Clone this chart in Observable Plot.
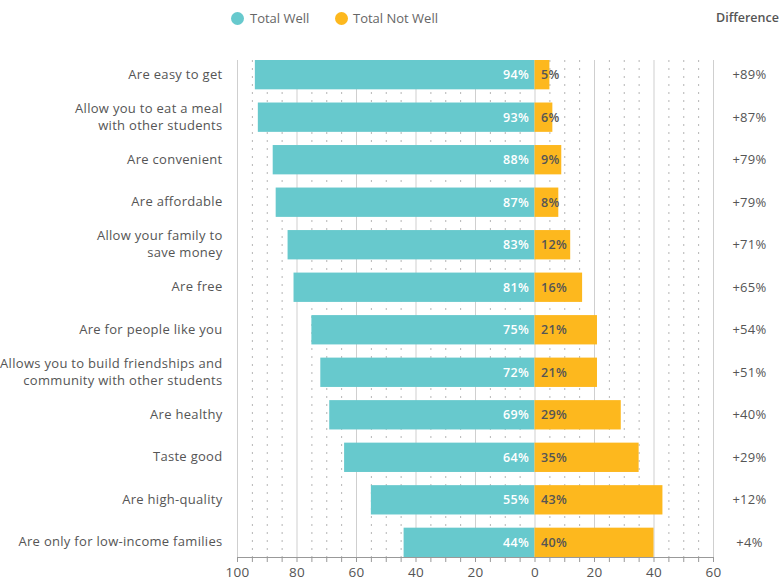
<!DOCTYPE html>
<html>
<head>
<meta charset="utf-8">
<script src="https://cdn.jsdelivr.net/npm/d3@7"></script>
<script src="https://cdn.jsdelivr.net/npm/@observablehq/plot@0.6"></script>
<style>
  html, body { margin: 0; padding: 0; background: #fff; }
  body { width: 782px; height: 584px; position: relative; overflow: hidden; font-family: "Open Sans", sans-serif; }
  #legend { position: absolute; top: 0; left: 0; width: 782px; height: 36px; font-size: 13px; color: #666; }
  .sw { position: absolute; width: 13px; height: 13px; border-radius: 50%; top: 12px; }
  .lt { position: absolute; top: 9px; line-height: 18px; }
  #diffhead { position: absolute; top: 9px; left: 716px; line-height: 18px; font-size: 12.5px; font-weight: 600; color: #555; }
  #chart { position: absolute; top: 0; left: 0; }
</style>
</head>
<body>
<div id="legend">
  <div class="sw" style="left:231px;background:#67C9CD"></div><div class="lt" style="left:250px">Total Well</div>
  <div class="sw" style="left:335px;background:#FDB81E"></div><div class="lt" style="left:353px">Total Not Well</div>
  <div id="diffhead">Difference</div>
</div>
<div id="chart"></div>
<script>
const categories = [
  "Are easy to get",
  "Allow you to eat a meal\nwith other students",
  "Are convenient",
  "Are affordable",
  "Allow your family to\nsave money",
  "Are free",
  "Are for people like you",
  "Allows you to build friendships and\ncommunity with other students",
  "Are healthy",
  "Taste good",
  "Are high-quality",
  "Are only for low-income families"
];
const wellValues    = [94, 93, 88, 87, 83, 81, 75, 72, 69, 64, 55, 44];
const notWellValues = [5, 6, 9, 8, 12, 16, 21, 21, 29, 35, 43, 40];
const differences   = ["+89%", "+87%", "+79%", "+79%", "+71%", "+65%", "+54%", "+51%", "+40%", "+29%", "+12%", "+4%"];
const xTicks = d3.range(-100, 61, 5);
const majorTicks = xTicks.filter(d => d % 20 === 0);
const minorTicks = xTicks.filter(d => d % 20 !== 0);

const TEAL = "#67C9CD";
const ORANGE = "#FDB81E";

const rows = categories.map((c, i) => ({
  cat: c, well: wellValues[i], notWell: notWellValues[i], diff: differences[i]
}));

const plot = Plot.plot({
  width: 782,
  height: 584,
  marginTop: 60,
  marginBottom: 27,
  marginLeft: 237,
  marginRight: 69,
  style: { fontFamily: "Open Sans, sans-serif", background: "transparent", letterSpacing: "0.3px" },
  x: { domain: [-100, 60], label: null },
  y: { domain: categories, paddingInner: 0.31, paddingOuter: 0, round: false, axis: null },
  marks: [
    Plot.gridX(minorTicks, { stroke: "#b5b5b5", strokeOpacity: 1, strokeDasharray: "2,6" }),
    Plot.gridX(majorTicks, { stroke: "#cfcfcf", strokeOpacity: 1 }),
    Plot.barX(rows, { y: "cat", x1: d => -d.well, x2: 0, fill: TEAL }),
    Plot.barX(rows, { y: "cat", x1: 0, x2: "notWell", fill: ORANGE }),
    Plot.text(rows, { y: "cat", x: 0, text: d => d.well + "%", textAnchor: "end", dx: -6, fill: "#fff", fontSize: 12.5, fontWeight: 600 }),
    Plot.text(rows, { y: "cat", x: 0, text: d => d.notWell + "%", textAnchor: "start", dx: 6, fill: "#555", fontSize: 12.5, fontWeight: 600 }),
    Plot.text(rows, { y: "cat", text: "cat", frameAnchor: "left", textAnchor: "end", dx: -15, dy: -2, fill: "#555", fontSize: 13, lineHeight: 1.3 }),
    Plot.text(rows, { y: "cat", text: "diff", frameAnchor: "right", textAnchor: "middle", dx: 36, fill: "#555", fontSize: 13 }),
    Plot.frame({ anchor: "bottom", stroke: "#999" }),
    Plot.axisX({ ticks: xTicks, tickSize: 5, tickPadding: 5, stroke: "#999", fill: "#555", fontSize: 13.5, label: null,
      tickFormat: d => d % 20 === 0 ? String(Math.abs(d)) : "" })
  ]
});
document.getElementById("chart").appendChild(plot);
</script>
</body>
</html>
